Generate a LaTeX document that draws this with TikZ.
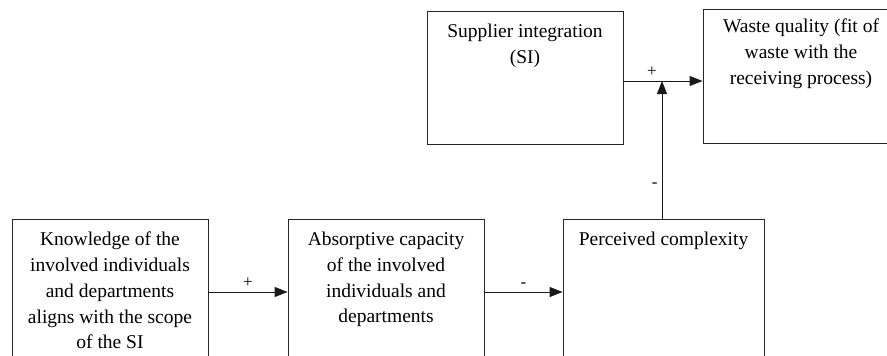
\documentclass[tikz,border=0pt]{standalone}
\usepackage{fontspec}
\setmainfont{Liberation Serif}
\usetikzlibrary{arrows.meta,calc}
\begin{document}
\begin{tikzpicture}[x=1pt,y=-1pt,
  box/.style={draw=black!85, line width=0.9pt, inner sep=0pt},
  txt/.style={anchor=north, align=center, font=\fontsize{19.5}{25.7}\selectfont, inner sep=0pt, yshift=-13.5pt},
  arr/.style={draw=black!90, line width=0.9pt, -{Triangle[length=13pt,width=10pt]}},
  sign/.style={font=\fontsize{17}{20}\selectfont, inner sep=4pt}]
\useasboundingbox (0,0) rectangle (887,356);
\node[box, minimum width=196pt, minimum height=133pt,
  label={[txt]north:Supplier integration\\(SI)}] (si) at (525,77.5) {};
\node[box, minimum width=196pt, minimum height=134pt,
  label={[txt, yshift=3pt]north:Waste quality (fit of\\waste with the\\receiving process)}] (wq) at (801,76) {};
\node[box, minimum width=196pt, minimum height=161pt,
  label={[txt]north:Knowledge of the\\involved individuals\\and departments\\aligns with the scope\\of the SI}] (kn) at (110,299.5) {};
\node[box, minimum width=196pt, minimum height=161pt,
  label={[txt]north:Absorptive capacity\\of the involved\\individuals and\\departments}] (ab) at (386,299.5) {};
\node[box, minimum width=201pt, minimum height=161pt,
  label={[txt]north:Perceived complexity}] (pc) at (663.5,299.5) {};
\coordinate (j) at (662,81);
\coordinate (r) at (0,292);
\draw[arr] (si.east |- j) -- node[sign, above, pos=0.36]{+} (wq.west |- j);
\draw[arr] (pc.north -| j) -- node[sign, left, pos=0.24]{-} (j);
\draw[arr] (kn.east |- r) -- node[sign, above]{+} (ab.west |- r);
\draw[arr] (ab.east |- r) -- node[sign, above]{-} (pc.west |- r);
\end{tikzpicture}
\end{document}
